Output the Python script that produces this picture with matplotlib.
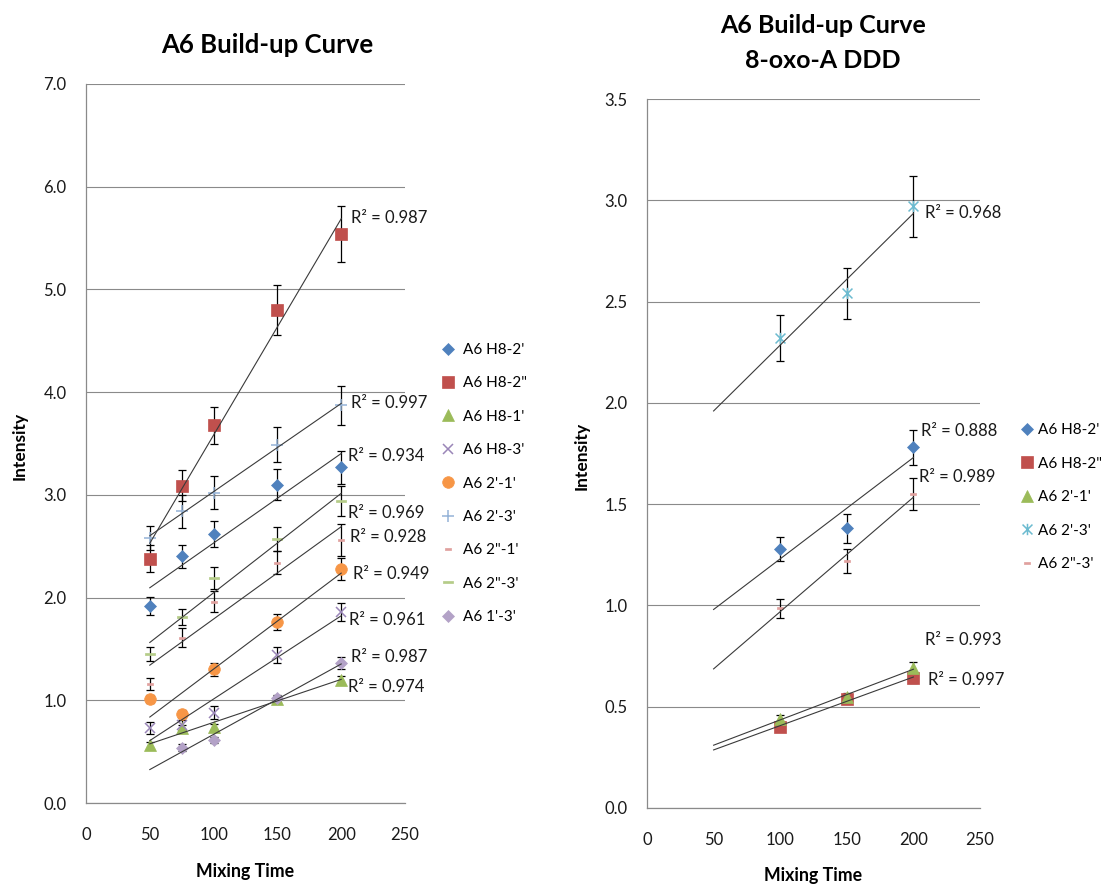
import numpy as np
import matplotlib.pyplot as plt
from matplotlib.path import Path
from matplotlib.ticker import FormatStrFormatter

plt.rcParams['font.family'] = ['Lato', 'DejaVu Sans']

# ---- dados: A6 Build-up Curve ----
tempos = [50, 75, 100, 150, 200]
tempos13 = [75, 100, 150, 200]   # 1'-3' sem ponto aos 50

h8_2p = [1.92, 2.40, 2.62, 3.10, 3.27]
h8_2p_err = [0.09, 0.11, 0.13, 0.15, 0.16]
h8_2pp = [2.38, 3.09, 3.68, 4.80, 5.54]
h8_2pp_err = [0.13, 0.15, 0.18, 0.24, 0.27]
h8_1p = [0.56, 0.73, 0.74, 1.01, 1.20]
h8_1p_err = [0.03, 0.03, 0.03, 0.03, 0.04]
h8_3p = [0.73, 0.76, 0.88, 1.44, 1.86]
h8_3p_err = [0.06, 0.05, 0.06, 0.08, 0.09]
r2p_1p = [1.01, 0.87, 1.30, 1.76, 2.28]
r2p_1p_err = [0.04, 0.04, 0.06, 0.08, 0.11]
r2p_3p = [2.58, 2.84, 3.02, 3.49, 3.87]
r2p_3p_err = [0.12, 0.16, 0.16, 0.17, 0.19]
r2pp_1p = [1.16, 1.61, 1.96, 2.34, 2.56]
r2pp_1p_err = [0.06, 0.09, 0.10, 0.11, 0.16]
r2pp_3p = [1.45, 1.81, 2.19, 2.57, 2.94]
r2pp_3p_err = [0.07, 0.08, 0.11, 0.12, 0.15]
r1p_3p = [0.54, 0.61, 1.02, 1.36]
r1p_3p_err = [0.03, 0.03, 0.03, 0.06]

nomesA = ["A6 H8-2'", 'A6 H8-2"', "A6 H8-1'", "A6 H8-3'", "A6 2'-1'",
          "A6 2'-3'", 'A6 2"-1\'', 'A6 2"-3\'', "A6 1'-3'"]
r2A = ['0.934', '0.987', '0.974', '0.961', '0.949', '0.997', '0.928', '0.969', '0.987']

# ---- dados: A6 Build-up Curve 8-oxo-A DDD ----
temposB = [100, 150, 200]
oxo_h8_2p = [1.28, 1.38, 1.78]
oxo_h8_2p_err = [0.06, 0.07, 0.085]
oxo_h8_2pp = [0.40, 0.54, 0.64]
oxo_h8_2pp_err = [0.02, 0.02, 0.025]
oxo_2p_1p = [0.44, 0.55, 0.69]
oxo_2p_1p_err = [0.02, 0.02, 0.03]
oxo_2p_3p = [2.32, 2.54, 2.97]
oxo_2p_3p_err = [0.115, 0.125, 0.15]
oxo_2pp_3p = [0.985, 1.22, 1.55]
oxo_2pp_3p_err = [0.045, 0.06, 0.078]

nomesB = ["A6 H8-2'", 'A6 H8-2"', "A6 2'-1'", "A6 2'-3'", 'A6 2"-3\'']
r2B = ['0.888', '0.997', '0.993', '0.968', '0.989']

# posições dos textos R² (coordenadas dos dados)
posR2A = [(205, 3.38), (208, 5.70), (205, 1.13), (206, 1.78), (209, 2.23),
          (208, 3.89), (207, 2.59), (205, 2.82), (208, 1.42)]
posR2B = [(206, 1.863), (211, 0.634), (209, 0.827), (208.7, 2.935), (204.5, 1.632)]

# marcadores especiais
asterisco = Path([(-1, -1), (1, 1), (-1, 1), (1, -1), (0, -1.15), (0, 1.15)],
                 [Path.MOVETO, Path.LINETO] * 3)
tracoLongo = [(-1, -0.15), (1, -0.15), (1, 0.15), (-1, 0.15), (-1, -0.15)]
tracoCurto = [(-1, -0.25), (1, -0.25), (1, 0.25), (-1, 0.25), (-1, -0.25)]

def mk(marker, cor, ms, **kw):
    d = dict(marker=marker, color=cor, markerfacecolor=cor, markeredgecolor=cor, ms=ms, mew=0.5)
    d.update(kw)
    return d

estilosA = [mk('D', '#4F81BD', 6.2),
            mk('s', '#C0504D', 8.2),
            mk('^', '#9BBB59', 8.2),
            mk('x', '#9A86B8', 7.8, mew=1.1),
            mk('o', '#F79646', 8.4),
            mk('+', '#95B3D7', 8.8, mew=1.1),
            mk(tracoCurto, '#E0A09E', 4.3),
            mk(tracoLongo, '#B5CC88', 7.2),
            mk('D', '#B3A2C7', 6.2)]

estilosB = [mk('D', '#4F81BD', 6.2),
            mk('s', '#C0504D', 8.2),
            mk('^', '#9BBB59', 8.2),
            mk(asterisco, '#6CBBD0', 8.2, markerfacecolor='none', mew=1.1),
            mk(tracoCurto, '#E0A09E', 4.3)]


def desenhaSerie(ax, x, y, erro, estilo, nome, r2, pos):
    ax.errorbar(x, y, yerr=erro, fmt='none', ecolor='black', elinewidth=0.9,
                capsize=3.2, capthick=0.9, zorder=3)
    ax.plot(x, y, ls='none', label=nome, zorder=4, **estilo)
    a, b = np.polyfit(x, y, 1)
    xt = np.array([50, 200])
    ax.plot(xt, a * xt + b, color='#3a3a3a', lw=0.8, zorder=5)
    ax.text(pos[0], pos[1], 'R² = ' + r2, fontsize=12, va='center', ha='left', color='#1a1a1a')


def estiloEixo(ax, ymax, ystep):
    ax.set_xlim(0, 250)
    ax.set_ylim(0, ymax)
    ax.set_xticks(np.arange(0, 251, 50))
    ax.set_yticks(np.arange(0, ymax + ystep / 2, ystep))
    ax.yaxis.set_major_formatter(FormatStrFormatter('%.1f'))
    ax.grid(axis='y', color='#8a8a8a', lw=0.8)
    ax.set_axisbelow(True)
    for s in ['top', 'right']:
        ax.spines[s].set_visible(False)
    for s in ['left', 'bottom']:
        ax.spines[s].set_color('#8a8a8a')
        ax.spines[s].set_linewidth(0.9)
    ax.tick_params(length=0, labelsize=12, colors='#1a1a1a')
    ax.tick_params(axis='x', pad=17)
    ax.tick_params(axis='y', pad=14)


W, H = 1108, 884
def caixa(x0, y0, x1, y1):
    return [x0 / W, 1 - y1 / H, (x1 - x0) / W, (y1 - y0) / H]

fig = plt.figure(figsize=(11.08, 8.84), dpi=100)
axA = fig.add_axes(caixa(86, 84, 405, 803))
axB = fig.add_axes(caixa(647, 99, 980, 808))
estiloEixo(axA, 7.0, 1.0)
estiloEixo(axB, 3.5, 0.5)

dadosA = [(tempos, h8_2p, h8_2p_err), (tempos, h8_2pp, h8_2pp_err), (tempos, h8_1p, h8_1p_err),
          (tempos, h8_3p, h8_3p_err), (tempos, r2p_1p, r2p_1p_err), (tempos, r2p_3p, r2p_3p_err),
          (tempos, r2pp_1p, r2pp_1p_err), (tempos, r2pp_3p, r2pp_3p_err), (tempos13, r1p_3p, r1p_3p_err)]
for i, (x, y, e) in enumerate(dadosA):
    desenhaSerie(axA, x, y, e, estilosA[i], nomesA[i], r2A[i], posR2A[i])

dadosB = [(oxo_h8_2p, oxo_h8_2p_err), (oxo_h8_2pp, oxo_h8_2pp_err), (oxo_2p_1p, oxo_2p_1p_err),
          (oxo_2p_3p, oxo_2p_3p_err), (oxo_2pp_3p, oxo_2pp_3p_err)]
for i, (y, e) in enumerate(dadosB):
    desenhaSerie(axB, temposB, y, e, estilosB[i], nomesB[i], r2B[i], posR2B[i])

# legendas
axA.legend(loc='upper left', bbox_to_anchor=(442 / W, 1 - 343 / H), bbox_transform=fig.transFigure,
           frameon=False, fontsize=11, handlelength=0.8, handletextpad=0.55, labelspacing=1.27,
           borderpad=0, borderaxespad=0, numpoints=1)
axB.legend(loc='upper left', bbox_to_anchor=(1021 / W, 1 - 423 / H), bbox_transform=fig.transFigure,
           frameon=False, fontsize=11, handlelength=0.8, handletextpad=0.3, labelspacing=1.28,
           borderpad=0, borderaxespad=0, numpoints=1)

# títulos e nomes dos eixos
fig.text(267 / W, 1 - 45 / H, 'A6 Build-up Curve', ha='center', va='center',
         fontsize=18.5, fontweight='bold')
fig.text(823 / W, 1 - 43 / H, 'A6 Build-up Curve\n8-oxo-A DDD', ha='center', va='center',
         fontsize=18, fontweight='bold', linespacing=1.6)
fig.text(20 / W, 1 - 446 / H, 'Intensity', rotation=90, ha='center', va='center',
         fontsize=12.5, fontweight='bold')
fig.text(582 / W, 1 - 456 / H, 'Intensity', rotation=90, ha='center', va='center',
         fontsize=12.5, fontweight='bold')
fig.text(245.5 / W, 1 - 872 / H, 'Mixing Time', ha='center', va='center',
         fontsize=12.8, fontweight='bold')
fig.text(813 / W, 1 - 876 / H, 'Mixing Time', ha='center', va='center',
         fontsize=12.8, fontweight='bold')

fig.savefig('out.png', dpi=100)
